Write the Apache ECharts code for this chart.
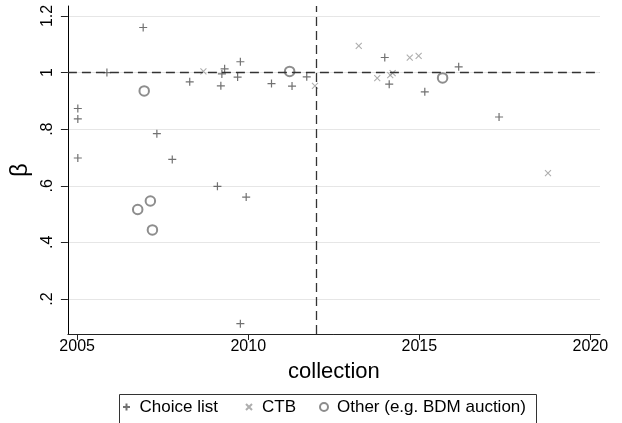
<!DOCTYPE html>
<html>
<head>
<meta charset="utf-8">
<script src="https://cdn.jsdelivr.net/npm/echarts@6/dist/echarts.min.js"></script>
<style>html,body{margin:0;padding:0;background:#fff;}#c{width:622px;height:423px;}</style>
</head>
<body>
<div id="c"></div>
<script>
// Data
var choiceX = [2005.02, 2005.02, 2005.02, 2005.87, 2006.93, 2007.33, 2007.78, 2008.29, 2009.10, 2009.20, 2009.23, 2009.31, 2009.69, 2009.77, 2009.77, 2009.94, 2010.68, 2011.28, 2011.71, 2013.99, 2014.12, 2015.16, 2016.15, 2017.33];
var choiceY = [0.873, 0.836, 0.698, 1.000, 1.159, 0.784, 0.693, 0.967, 0.598, 0.953, 0.995, 1.013, 0.984, 1.038, 0.113, 0.560, 0.961, 0.952, 0.985, 1.053, 0.959, 0.932, 1.020, 0.843];
var ctbX = [2008.69, 2011.95, 2013.23, 2013.77, 2014.15, 2014.22, 2014.72, 2014.98, 2018.76];
var ctbY = [1.004, 0.953, 1.094, 0.980, 0.991, 0.998, 1.053, 1.059, 0.645];
var otherX = [2006.77, 2006.96, 2007.14, 2007.20, 2011.21, 2015.68];
var otherY = [0.516, 0.935, 0.546, 0.444, 1.004, 0.981];
var xTicks = [2005, 2010, 2015, 2020];
var yTicks = [0.2, 0.4, 0.6, 0.8, 1, 1.2];
var yTickLabels = ['.2', '.4', '.6', '.8', '1', '1.2'];
var seriesNames = ['Choice list', 'CTB', 'Other (e.g. BDM auction)'];
var refX = 2012;
var refY = 1;

function pairs(xs, ys) { return xs.map(function (x, i) { return [x, ys[i]]; }); }

var FONT = '"Liberation Sans", Arial, Helvetica, sans-serif';
var chart = echarts.init(document.getElementById('c'), null, { renderer: 'canvas' });

var plusPath = 'path://M0,5L10,5M5,0L5,10';
var crossPath = 'path://M0,0L10,10M10,0L0,10';
var legendText = { fontSize: 17, color: '#000', fontFamily: FONT, lineHeight: 20 };

var option = {
  backgroundColor: '#fff',
  animation: false,
  textStyle: { fontFamily: FONT },
  grid: { left: 62, right: 22, top: 6, bottom: 89, containLabel: false },
  xAxis: {
    type: 'value', min: 2004.73, max: 2020.28,
    name: 'collection', nameLocation: 'middle', nameGap: 27,
    nameTextStyle: { fontSize: 22, color: '#000', fontFamily: FONT },
    axisLine: { show: true, lineStyle: { color: '#222', width: 1 } },
    axisTick: { show: true, length: 6, customValues: xTicks, lineStyle: { color: '#222' } },
    axisLabel: { customValues: xTicks, fontSize: 16, color: '#000', margin: 5, fontFamily: FONT,
      formatter: function (v) { return String(Math.round(v)); } },
    splitLine: { show: false }
  },
  yAxis: {
    type: 'value', min: 0.0764, max: 1.235,
    name: 'β', nameLocation: 'middle', nameGap: 29, nameRotate: 90,
    nameTextStyle: { fontSize: 24, color: '#000', fontFamily: FONT },
    axisLine: { show: true, lineStyle: { color: '#000', width: 1 } },
    axisTick: { show: true, length: 7, customValues: yTicks, lineStyle: { color: '#222' } },
    axisLabel: {
      customValues: yTicks, rotate: 90, fontSize: 16, color: '#000', margin: 12, fontFamily: FONT,
      formatter: function (v) { var i = yTicks.findIndex(function (t) { return Math.abs(t - v) < 1e-9; }); return i >= 0 ? yTickLabels[i] : ''; }
    },
    splitLine: { show: true, lineStyle: { color: '#e6e6e6', width: 1 } }
  },
  legend: [
    { data: [seriesNames[0]], left: 122, top: 397, padding: 0, itemWidth: 16, itemHeight: 7, itemGap: 0, textStyle: legendText },
    { data: [seriesNames[1]], left: 245, top: 397, padding: 0, itemWidth: 16, itemHeight: 6, itemGap: 0, textStyle: legendText },
    { data: [seriesNames[2]], left: 319, top: 397, padding: 0, itemWidth: 16, itemHeight: 8, itemGap: 0, textStyle: legendText }
  ],
  graphic: [
    { type: 'rect', left: 117, top: 392, shape: { width: 417, height: 29 }, silent: true,
      style: { fill: 'none', stroke: '#333', lineWidth: 1 } }
  ],
  series: [
    {
      name: seriesNames[0], type: 'scatter', data: pairs(choiceX, choiceY),
      symbol: plusPath, symbolSize: 8,
      itemStyle: { color: '#4d4d4d', borderColor: '#4d4d4d', borderWidth: 1.2 },
      markLine: {
        silent: true, symbol: 'none', label: { show: false },
        lineStyle: { color: '#333', width: 1.3, type: [9, 5] },
        data: [{ yAxis: refY }, { xAxis: refX }]
      },
      z: 3
    },
    {
      name: seriesNames[1], type: 'scatter', data: pairs(ctbX, ctbY),
      symbol: crossPath, symbolSize: 6,
      itemStyle: { color: '#9a9a9a', borderColor: '#9a9a9a', borderWidth: 1.1 },
      z: 3
    },
    {
      name: seriesNames[2], type: 'scatter', data: pairs(otherX, otherY),
      symbol: 'emptyCircle', symbolSize: 9.5,
      itemStyle: { color: '#707070', borderColor: '#707070', borderWidth: 1 },
      z: 3
    }
  ]
};
chart.setOption(option);
</script>
</body>
</html>
